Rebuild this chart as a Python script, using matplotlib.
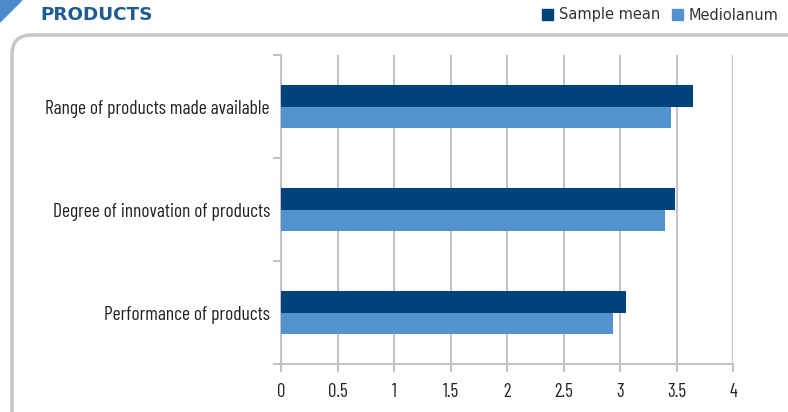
import matplotlib.pyplot as plt
import numpy as np
from matplotlib.patches import FancyBboxPatch, Polygon, Rectangle

categories = ['Performance of products', 'Degree of innovation of products',
              'Range of products made available']
sample_mean = [3.05, 3.49, 3.65]
mediolanum = [2.94, 3.40, 3.45]
xticks = [0, 0.5, 1, 1.5, 2, 2.5, 3, 3.5, 4]
xlabels = ['0', '0.5', '1', '1.5', '2', '2.5', '3', '3.5', '4']

dark = '#00427a'
light = '#5292cf'
grey = '#c3c3c7'
narrow = ['Barlow Condensed', 'DejaVu Sans']

W, H = 788, 412
fig = plt.figure(figsize=(W / 100, H / 100), dpi=100)

# rounded frame and corner triangle
frame = FancyBboxPatch((12 / W, -40 / H), (W + 40) / W, (H - 35 + 40) / H,
                       boxstyle='round,pad=0,rounding_size=0.025',
                       transform=fig.transFigure, fill=False,
                       edgecolor='#c6c6c6', linewidth=2.5, mutation_aspect=W / H)
fig.patches.append(frame)
tri = Polygon([(0, 1), (22 / W, 1), (0, 1 - 22 / H)], closed=True,
              transform=fig.transFigure, color='#4a8ccc')
fig.patches.append(tri)
fig.text(40 / W, 1 - 15 / H, 'PRODUCTS', color='#1f5c93', fontsize=13.2,
         fontweight='bold', va='center', ha='left', family='DejaVu Sans')

# legend
for x0, col, lab in [(542, dark, 'Sample mean'), (672, light, 'Mediolanum')]:
    fig.patches.append(Rectangle((x0 / W, 1 - 20 / H), 11 / W, 11 / H,
                                 transform=fig.transFigure, color=col))
    fig.text((x0 + 17) / W, 1 - 15 / H, lab, fontsize=10.5, va='center',
             ha='left', color='#333333', family='DejaVu Sans')

ax = fig.add_axes([281 / W, 1 - 364 / H, (733 - 281) / W, (364 - 55) / H])
y = np.arange(len(categories))
h = 0.21
ax.barh(y + h / 2, sample_mean, h, color=dark, zorder=3)
ax.barh(y - h / 2, mediolanum, h, color=light, zorder=3)

ax.set_xlim(0, 4)
ax.set_ylim(-0.5, 2.5)
ax.set_xticks(xticks)
ax.set_xticklabels(xlabels, family=narrow, fontsize=13.5, color='#222222')
ax.set_yticks(y)
ax.set_yticklabels(categories, family=narrow, fontsize=14, color='#222222')
ax.tick_params(axis='y', length=0, pad=8)
ax.set_yticks([-0.5, 0.5, 1.5, 2.5], minor=True)
ax.tick_params(axis='y', which='minor', length=6, color=grey, width=1.5)
ax.tick_params(axis='x', length=6, color=grey, width=1.5, pad=8)
ax.grid(axis='x', color=grey, linewidth=1.5, zorder=0)
for s in ['top', 'right']:
    ax.spines[s].set_visible(False)
for s in ['left', 'bottom']:
    ax.spines[s].set_color(grey)
    ax.spines[s].set_linewidth(1.5)

fig.savefig('out.png', dpi=100)
